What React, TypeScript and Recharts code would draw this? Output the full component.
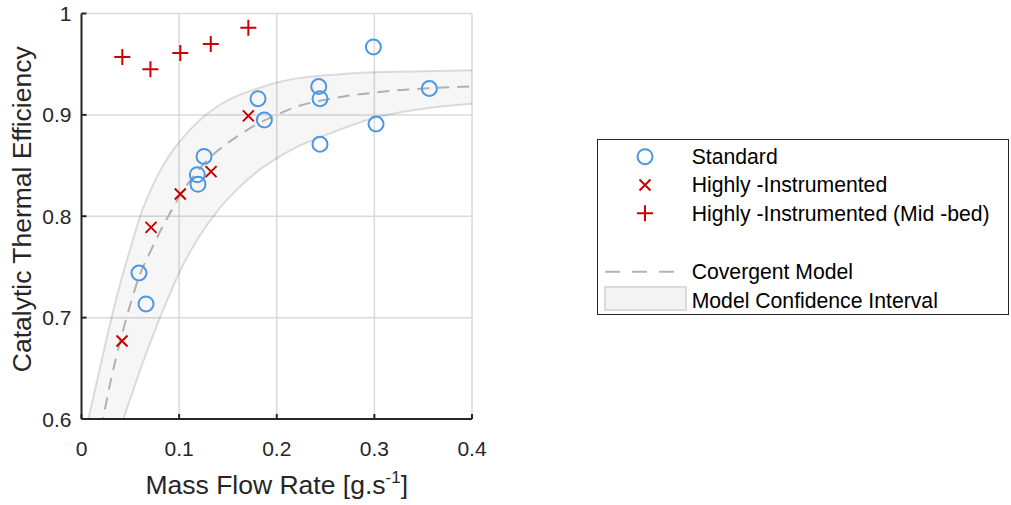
import React from 'react';
import {
  ComposedChart,
  Area,
  Line,
  Scatter,
  XAxis,
  YAxis,
  CartesianGrid,
  Legend,
} from 'recharts';

// measured points
const standardX = [0.0589, 0.0661, 0.1186, 0.1193, 0.1255, 0.1808, 0.1873, 0.243, 0.2443, 0.2443, 0.299, 0.3017, 0.3563];
const standardY = [0.744, 0.7135, 0.841, 0.8315, 0.859, 0.916, 0.895, 0.928, 0.916, 0.871, 0.967, 0.891, 0.926];

const instrumentedX = [0.0415, 0.0712, 0.1012, 0.1327, 0.1709];
const instrumentedY = [0.677, 0.789, 0.822, 0.844, 0.899];

const midBedX = [0.0418, 0.0706, 0.1012, 0.1324, 0.1709];
const midBedY = [0.957, 0.945, 0.961, 0.97, 0.986];

// convergent model and its confidence interval
const curveX = [0.007, 0.02, 0.03, 0.04, 0.05, 0.06, 0.07, 0.08, 0.09, 0.1, 0.12, 0.14, 0.16, 0.18, 0.2, 0.22, 0.25, 0.3, 0.35, 0.4];
const modelY = [null, 0.59, 0.638, 0.678, 0.713, 0.743, 0.764, 0.784, 0.802, 0.819, 0.846, 0.865, 0.879, 0.891, 0.9, 0.908, 0.915, 0.922, 0.926, 0.928];
const upperY = [0.6, 0.655, 0.697, 0.735, 0.768, 0.8, 0.824, 0.844, 0.86, 0.873, 0.894, 0.909, 0.919, 0.926, 0.932, 0.936, 0.939, 0.942, 0.943, 0.944];
const lowerY = [0.46, 0.51, 0.55, 0.59, 0.62, 0.648, 0.674, 0.699, 0.722, 0.744, 0.779, 0.806, 0.827, 0.844, 0.857, 0.868, 0.88, 0.897, 0.906, 0.911];

const xTicks = [0, 0.1, 0.2, 0.3, 0.4];
const yTicks = [0.6, 0.7, 0.8, 0.9, 1];

const FONT = "'Liberation Sans', Arial, sans-serif";
const AXIS = '#262626';
const BLUE = '#4d96e4';
const RED = '#cc0000';

const curveData = curveX.map((x, i) => ({
  x,
  model: modelY[i],
  upper: upperY[i],
  lower: lowerY[i],
  band: [lowerY[i], upperY[i]],
}));
const toPoints = (xs: number[], ys: number[]) => xs.map((x, i) => ({ x, y: ys[i] }));
const standardData = toPoints(standardX, standardY);
const instrumentedData = toPoints(instrumentedX, instrumentedY);
const midBedData = toPoints(midBedX, midBedY);

const fmt = (v: number) => (v === 0 || v === 1 ? String(v) : v.toFixed(1));

const CircleMark = (p: any) => (
  <circle cx={p.cx} cy={p.cy} r={7.5} fill="none" stroke={BLUE} strokeWidth={2} />
);
const CrossMark = (p: any) => (
  <path
    d={`M${p.cx - 5.5},${p.cy - 5.5}L${p.cx + 5.5},${p.cy + 5.5}M${p.cx - 5.5},${p.cy + 5.5}L${p.cx + 5.5},${p.cy - 5.5}`}
    stroke={RED}
    strokeWidth={2}
  />
);
const PlusMark = (p: any) => (
  <path
    d={`M${p.cx - 8},${p.cy}L${p.cx + 8},${p.cy}M${p.cx},${p.cy - 8}L${p.cx},${p.cy + 8}`}
    stroke={RED}
    strokeWidth={2}
  />
);

// inward tick marks like the original plotting tool
const YTick = (p: any) => {
  const ax = p.x + 10;
  return (
    <g>
      <line x1={ax} x2={ax + 5} y1={p.y} y2={p.y} stroke={AXIS} strokeWidth={2} />
      <text x={p.x} y={p.y} dy={7.5} textAnchor="end" fontFamily={FONT} fontSize={21} fill={AXIS}>
        {fmt(p.payload.value)}
      </text>
    </g>
  );
};
const XTick = (p: any) => {
  const ay = p.y - 21;
  return (
    <g>
      <line x1={p.x} x2={p.x} y1={ay} y2={ay - 5} stroke={AXIS} strokeWidth={2} />
      <text x={p.x} y={p.y + 16} textAnchor="middle" fontFamily={FONT} fontSize={21} fill={AXIS}>
        {fmt(p.payload.value)}
      </text>
    </g>
  );
};

const XLabel = (p: any) => {
  const vb = p.viewBox;
  return (
    <text x={vb.x + vb.width / 2} y={vb.y + 75} textAnchor="middle" fontFamily={FONT} fontSize={26.5} fill={AXIS}>
      Mass Flow Rate [g.s
      <tspan dy={-11} fontSize={17}>-1</tspan>
      <tspan dy={11}>]</tspan>
    </text>
  );
};
const YLabel = (p: any) => {
  const vb = p.viewBox;
  const cx = 21;
  const cy = vb.y + vb.height / 2 - 7;
  return (
    <text
      x={cx}
      y={cy}
      transform={`rotate(-90 ${cx} ${cy})`}
      textAnchor="middle"
      dy={9.5}
      fontFamily={FONT}
      fontSize={26.5}
      fill={AXIS}
    >
      Catalytic Thermal Efficiency
    </text>
  );
};

const LegendBox = () => (
  <div style={{ width: 410, height: 174, border: `1.5px solid ${AXIS}`, background: '#fff' }}>
    <svg width={410} height={174} style={{ display: 'block' }}>
      <circle cx={47} cy={16.7} r={7.5} fill="none" stroke={BLUE} strokeWidth={2} />
      <path d="M41.5,39.5L52.5,50.5M41.5,50.5L52.5,39.5" stroke={RED} strokeWidth={2} />
      <path d="M39,73.3L55,73.3M47,65.3L47,81.3" stroke={RED} strokeWidth={2} />
      <line x1={7} x2={80} y1={131.7} y2={131.7} stroke="#b4b4b4" strokeWidth={2} strokeDasharray="15 12" />
      <rect x={7} y={147} width={81} height={23} fill="#f3f3f3" stroke="#dadada" strokeWidth={2} />
      <g fontFamily={FONT} fontSize={21.2} fill="#000">
        <text x={93.7} y={24}>Standard</text>
        <text x={93.7} y={52.3}>Highly -Instrumented</text>
        <text x={93.7} y={80.6}>Highly -Instrumented (Mid -bed)</text>
        <text x={93.7} y={139}>Covergent Model</text>
        <text x={93.7} y={168.3}>Model Confidence Interval</text>
      </g>
    </svg>
  </div>
);

const App: React.FC = () => {
  return (
    <div style={{ position: 'absolute', left: 0, top: 0 }}>
      <ComposedChart
        width={1011}
        height={505}
        data={curveData}
        margin={{ top: 13.5, right: 539, bottom: 0, left: 0 }}
      >
        <CartesianGrid stroke="#dadada" strokeWidth={1.5} />
        <Area
          dataKey="band"
          type="monotone"
          fill="#000"
          fillOpacity={0.035}
          stroke="none"
          isAnimationActive={false}
          legendType="none"
        />
        <Line dataKey="upper" type="monotone" stroke="#000" strokeOpacity={0.13} strokeWidth={2} dot={false} isAnimationActive={false} legendType="none" />
        <Line dataKey="lower" type="monotone" stroke="#000" strokeOpacity={0.13} strokeWidth={2} dot={false} isAnimationActive={false} legendType="none" />
        <Line
          dataKey="model"
          type="monotone"
          stroke="#b0b0b0"
          strokeWidth={2}
          strokeDasharray="12 8"
          dot={false}
          isAnimationActive={false}
          name="Covergent Model"
        />
        <Scatter data={midBedData} dataKey="y" shape={PlusMark} isAnimationActive={false} name="Highly -Instrumented (Mid -bed)" />
        <Scatter data={instrumentedData} dataKey="y" shape={CrossMark} isAnimationActive={false} name="Highly -Instrumented" />
        <Scatter data={standardData} dataKey="y" shape={CircleMark} isAnimationActive={false} name="Standard" />
        <XAxis
          dataKey="x"
          type="number"
          domain={[0, 0.4]}
          ticks={xTicks}
          allowDataOverflow
          height={86}
          tickSize={0}
          tickMargin={21}
          tickLine={false}
          tick={XTick}
          axisLine={{ stroke: AXIS, strokeWidth: 2 }}
          label={XLabel}
        />
        <YAxis
          type="number"
          domain={[0.6, 1]}
          ticks={yTicks}
          allowDataOverflow
          width={81.5}
          tickSize={0}
          tickMargin={10}
          tickLine={false}
          tick={YTick}
          axisLine={{ stroke: AXIS, strokeWidth: 2 }}
          label={YLabel}
        />
        <Legend
          layout="vertical"
          align="center"
          verticalAlign="middle"
          content={LegendBox}
          wrapperStyle={{ position: 'absolute', left: 596.5, top: 138.5, width: 413 }}
        />
      </ComposedChart>
    </div>
  );
};

export default App;
